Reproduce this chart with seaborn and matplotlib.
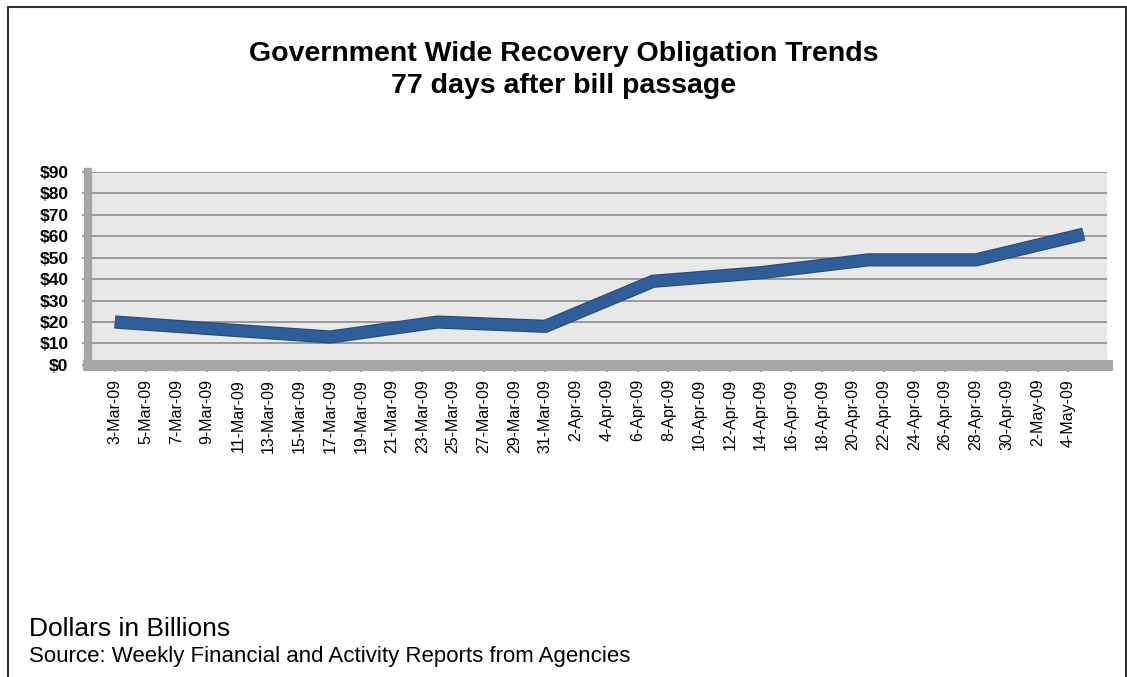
import matplotlib
matplotlib.use("Agg")
import matplotlib.pyplot as plt
import matplotlib.patheffects as pe
from matplotlib.patches import Rectangle
import seaborn as sns
import pandas as pd

# ---- data ----
report_dates = ["2009-03-03", "2009-03-10", "2009-03-17", "2009-03-24", "2009-03-31",
                "2009-04-07", "2009-04-14", "2009-04-21", "2009-04-28", "2009-05-05"]
obligations = [20, 16.5, 13, 20, 18, 39, 43, 49, 49, 61]   # $ billions
y_ticks = [0, 10, 20, 30, 40, 50, 60, 70, 80, 90]
y_tick_labels = ["$0", "$10", "$20", "$30", "$40", "$50", "$60", "$70", "$80", "$90"]
tick_start, tick_end = "2009-03-03", "2009-05-04"

title = "Government Wide Recovery Obligation Trends\n77 days after bill passage"
units_note = "Dollars in Billions"
source_note = "Source: Weekly Financial and Activity Reports from Agencies"

df = pd.DataFrame({"date": pd.to_datetime(report_dates), "value": obligations})

sns.set_theme(style="white")
plt.rcParams["font.family"] = ["Liberation Sans", "DejaVu Sans"]
plt.rcParams["text.color"] = "black"
plt.rcParams["xtick.labelcolor"] = "black"
plt.rcParams["ytick.labelcolor"] = "black"

fig = plt.figure(figsize=(11.27, 6.77), dpi=100)
ax = fig.add_axes([0.078, 0.461, 0.904, 0.285])
ax.set_facecolor("#E8E8E8")

line_color = "#2F5E98"
sns.lineplot(data=df, x="date", y="value", ax=ax, color=line_color, linewidth=8,
             solid_joinstyle="miter", solid_capstyle="butt", zorder=3,
             path_effects=[pe.Stroke(linewidth=9.5, foreground="#24497A"), pe.Normal()])

ax.set_ylim(0, 90)
ax.set_xlim(pd.Timestamp("2009-03-01 06:00"), pd.Timestamp("2009-05-06 12:00"))
ax.set_yticks(y_ticks)
ax.set_yticklabels(y_tick_labels, fontsize=12.5, fontweight="bold")
ax.yaxis.grid(True, color="#8C8C8C", linewidth=1.2)
ax.xaxis.grid(False)

xt = pd.date_range(tick_start, tick_end, freq="2D")
ax.set_xticks(xt)
ax.set_xticklabels([f"{d.day}-{d.strftime('%b')}-{d.strftime('%y')}" for d in xt],
                   rotation=90, fontsize=11.5)
ax.tick_params(axis="x", bottom=True, length=5, color="#8C8C8C", pad=5)
ax.tick_params(axis="y", left=True, length=4, color="#8C8C8C", pad=10)
ax.set_xlabel("")
ax.set_ylabel("")
for s in ax.spines.values():
    s.set_visible(False)
ax.spines["bottom"].set_visible(True)
ax.spines["bottom"].set_color("#A6A6A6")
ax.spines["bottom"].set_linewidth(8)
ax.spines["left"].set_visible(True)
ax.spines["left"].set_color("#A6A6A6")
ax.spines["left"].set_linewidth(6)

fig.text(0.5, 0.897, title, ha="center", va="center", fontsize=20.5,
         fontweight="bold", linespacing=1.32)
fig.text(0.026, 0.071, units_note, ha="left", va="center", fontsize=19)
fig.text(0.026, 0.031, source_note, ha="left", va="center", fontsize=16)

fig.patches.append(Rectangle((0.007, -0.01), 0.992, 1.0, transform=fig.transFigure,
                             fill=False, edgecolor="#333333", linewidth=1.5))

fig.savefig("out.png", dpi=100, facecolor="white")
